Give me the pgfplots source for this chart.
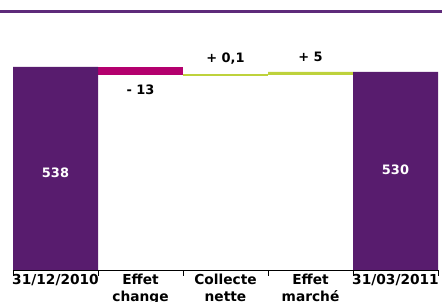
\documentclass[border=0pt]{standalone}
\usepackage{pgfplots}
\pgfplotsset{compat=1.18}
\usepackage{fontspec}
\setmainfont{DejaVu Sans}
\definecolor{cpurple}{HTML}{581C6E}
\definecolor{cmag}{HTML}{B4006E}
\definecolor{cgreen}{HTML}{BED23C}
\definecolor{cline}{HTML}{5E2A7A}
\begin{document}
\begin{tikzpicture}
\clip (0,0) rectangle (442bp,302bp);
\useasboundingbox (0,0) rectangle (442bp,302bp);
\draw[cline, line width=2.5bp] (0,290.5bp) -- (442bp,290.5bp);
\begin{axis}[
  at={(13bp,32bp)}, anchor=south west,
  scale only axis, width=425bp, height=250bp,
  xmin=-0.5, xmax=4.5, ymin=213, ymax=613,
  axis x line=bottom, axis y line=none,
  x axis line style={-, black, line width=0.8bp},
  ybar stacked, bar width=1,
  xtick={0,1,2,3,4},
  xticklabels={31/12/2010, Effet\\change, Collecte\\nette, Effet\\marché, 31/03/2011},
  minor xtick={-0.5,0.5,1.5,2.5,3.5,4.5},
  major tick length=0pt, minor tick length=6bp,
  tick align=outside, tick style={black, line width=0.8bp},
  xticklabel style={font=\fontsize{13.8}{17}\selectfont\bfseries, align=center, anchor=north, yshift=-0.5bp},
  ytick=\empty,
  axis on top,
]
% invisible base
\addplot[draw=none, fill=none] coordinates {(0,0) (1,525) (2,525) (3,525.1) (4,0)};
% opening / closing
\addplot[draw=none, fill=cpurple] coordinates {(0,538) (1,0) (2,0) (3,0) (4,530)};
% effet change
\addplot[draw=none, fill=cmag] coordinates {(0,0) (1,13) (2,0) (3,0) (4,0)};
% collecte nette / effet marche
\addplot[draw=none, fill=cgreen] coordinates {(0,0) (1,0) (2,0.1) (3,5) (4,0)};
\addplot[stack plots=false, sharp plot, draw=cgreen, line width=1.5bp, mark=none] coordinates {(1.5,525.05) (2.5,525.05)};
\coordinate (l0) at (axis cs:0,368);
\coordinate (l4) at (axis cs:4,373);
\coordinate (l1) at (axis cs:1,501);
\coordinate (l2) at (axis cs:2,552);
\coordinate (l3) at (axis cs:3,554);
\end{axis}
\begin{scope}[every node/.style={font=\fontsize{13}{15}\selectfont\bfseries}]
\node[text=white] at (l0) {538};
\node[text=white] at (l4) {530};
\node at (l1) {- 13};
\node at (l2) {+ 0,1};
\node at (l3) {+ 5};
\end{scope}
\end{tikzpicture}
\end{document}
